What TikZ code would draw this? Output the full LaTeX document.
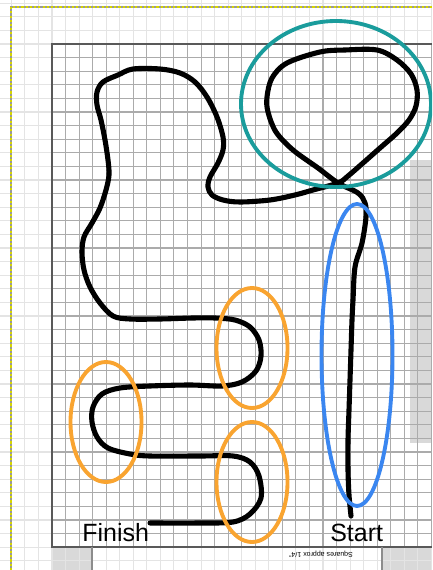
\documentclass[tikz,border=0pt]{standalone}
\usepackage{fontspec}
\setmainfont{Liberation Sans}
\usepackage{xcolor}
\definecolor{loopTeal}{HTML}{1A9C9C}
\definecolor{startBlue}{HTML}{3A86F0}
\definecolor{bendOrange}{HTML}{F9A430}
\definecolor{gridGray}{HTML}{ABABAB}
\definecolor{faintGray}{HTML}{E4E4E4}
\definecolor{stripGray}{HTML}{D9D9D9}
\definecolor{marchYellow}{HTML}{D6D600}

\begin{document}
\begin{tikzpicture}[x=0.02cm, y=-0.02cm,
    track/.style={line width=2.9pt, black, line cap=round, line join=round},
    zone/.style={line width=2.2pt},
    label/.style={inner sep=0pt, font=\fontsize{14.2pt}{16pt}\selectfont}]
    \useasboundingbox (0,0) rectangle (432,570);
    \clip (0,0) rectangle (432,570);

    % paper and faint outer grid
    \fill[white] (0,0) rectangle (432,570);
    \fill[stripGray] (52,547) rectangle (92,570);
    \fill[stripGray] (382,547) rectangle (432,570);
    \foreach \i in {-3,...,28}
        \draw[faintGray, line width=0.6pt] (52+13.55*\i, 0) -- (52+13.55*\i, 570);
    \foreach \j in {-3,...,39}
        \draw[faintGray, line width=0.6pt] (0, 44+13.6*\j) -- (432, 44+13.6*\j);

    % inner grid sheet
    \fill[white] (52,44) rectangle (432,547);
    \fill[stripGray] (410,160) rectangle (432,443);
    \foreach \i in {0,...,28}
        \draw[gridGray, line width=0.6pt] (52+13.55*\i, 44) -- (52+13.55*\i, 547);
    \foreach \j in {0,...,37}
        \draw[gridGray, line width=0.6pt] (52, 44+13.6*\j) -- (432, 44+13.6*\j);
    \draw[black!65, line width=0.9pt] (432,44) -- (52,44) -- (52,547) -- (432,547);
    \draw[black!45, line width=0.7pt] (92,547) -- (92,570);
    \draw[black!45, line width=0.7pt] (382,547) -- (382,570);

    % marching border
    \draw[black!40, line width=0.8pt] (11,570) -- (11,7) -- (432,7);
    \draw[marchYellow, line width=0.8pt, dash pattern=on 1.2pt off 1.2pt] (11,570) -- (11,7) -- (432,7);

    % the track
    \draw[track] plot[smooth, tension=0.55] coordinates {
        (351,516) (349,495) (348,470) (348,440) (349,410) (350,380) (351,350)
        (352,320) (353,300) (355,267) (362,243) (366,217) (365,203) (358,193)
        (338,183) (318,168) (293,150) (276,132) (268,112) (267,97) (272,78)
        (287,63) (320,52) (345,50) (377,50) (397,60) (411,74) (417,90)
        (416,106) (409,120) (397,133) (380,148) (363,163) (348,176) (338,183)
        (313,190) (295,195) (270,200) (240,202) (223,200) (212,195) (208,187)
        (210,177) (218,163) (223,150) (223,137) (217,117) (207,97) (195,82)
        (180,73) (160,69) (133,69) (118,75) (103,82) (97,92) (97,105)
        (101,120) (105,140) (108,160) (109,175) (106,190) (100,208) (92,223)
        (84,237) (82,252) (84,270) (90,287) (100,303) (113,316) (130,319)
        (160,319) (193,318) (215,318) (235,320) (250,327) (259,340) (261,356)
        (256,371) (242,382) (222,386) (190,385) (150,386) (120,388) (102,394)
        (93,407) (92,422) (97,437) (108,448) (130,454) (150,456) (200,456)
        (233,456) (250,462) (259,476) (261,498) (250,514) (233,522) (200,523)
        (150,523)};

    % marked zones
    \draw[zone, loopTeal] (336,104) ellipse [x radius=95, y radius=83];
    \draw[zone, startBlue] (357,355) ellipse [x radius=35.5, y radius=151];
    \draw[zone, bendOrange] (252,348) ellipse [x radius=35.5, y radius=60];
    \draw[zone, bendOrange] (106,422) ellipse [x radius=35.5, y radius=60];
    \draw[zone, bendOrange] (252,482) ellipse [x radius=35.5, y radius=60];

    \node[label, anchor=base west] (finish) at (82,541) {Finish};
    \node[label, anchor=base west] (start) at (330,541) {Start};
    \node[inner sep=0pt, rotate=180, font=\fontsize{4pt}{5pt}\selectfont] (scale) at (321,554) {Squares approx 1/4"};
\end{tikzpicture}
\end{document}
